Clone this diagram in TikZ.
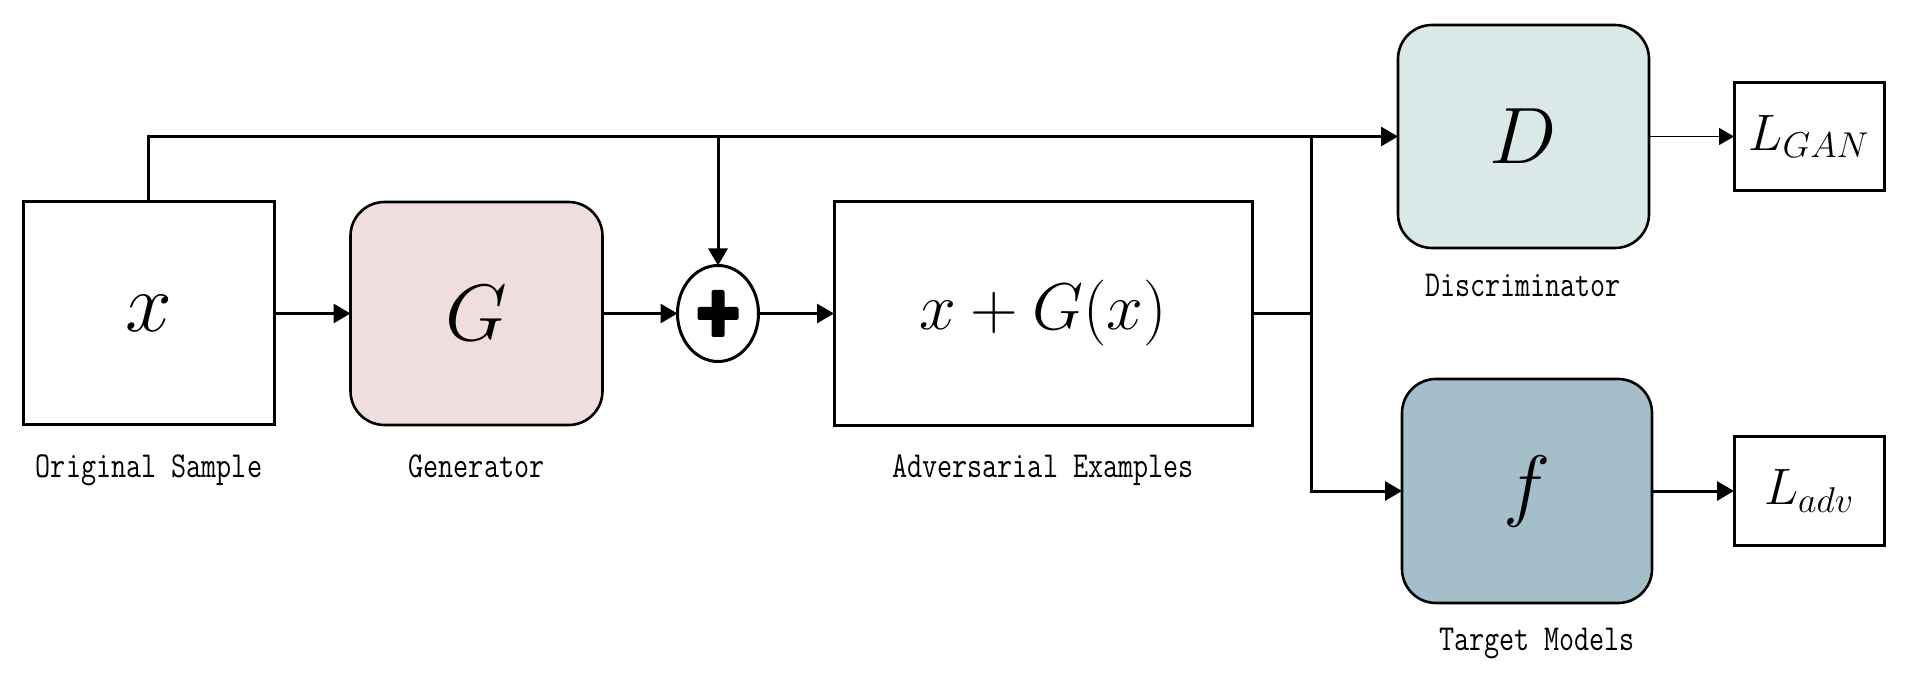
\RequirePackage{fix-cm}
\documentclass[tikz,border=0pt]{standalone}
\usetikzlibrary{arrows.meta,shapes.geometric}
\definecolor{gpink}{HTML}{F0DEDF}
\definecolor{dcyan}{HTML}{DAE8E8}
\definecolor{fblue}{HTML}{A4BFCA}
\begin{document}
\begin{tikzpicture}[x=0.5pt,y=-0.5pt,
  arr/.style={line width=1.5pt,-{Triangle[length=8.5pt,width=9.5pt]}},
  thinarr/.style={line width=0.6pt,-{Triangle[length=7.5pt,width=8.5pt]}},
  ln/.style={line width=1.5pt},
  sqbox/.style={draw,line width=1.5pt,inner sep=0pt,outer sep=0pt,fill=white},
  rbox/.style={draw,line width=1.3pt,rounded corners=17pt,inner sep=0pt,outer sep=0pt},
  lab/.style={font=\ttfamily\fontsize{18.3}{20}\selectfont,inner sep=0pt,anchor=base,xscale=0.8,transform shape},
  bigmath/.style={font=\fontsize{40}{44}\selectfont},
]
\fill[white] (0,0) rectangle (1906,673);
\useasboundingbox (0,0) rectangle (1906,673);

% boxes
\node[sqbox,minimum width=125.5pt,minimum height=111.5pt,font=\fontsize{42}{44}\selectfont] (xbox) at (148.5,313.5) {$x$};
\node[rbox,bigmath,fill=gpink,minimum width=126pt,minimum height=111.5pt] (G) at (476.5,313.5) {$G$};
\node[draw,ellipse,line width=1.5pt,inner sep=0pt,outer sep=0pt,fill=white,minimum width=40.5pt,minimum height=48pt] (plus) at (718,313.5) {};
\node[sqbox,minimum width=209pt,minimum height=112pt,font=\fontsize{33}{36}\selectfont] (adv) at (1043,313.5) {$x+G(x)$};
\node[rbox,bigmath,fill=dcyan,minimum width=125.5pt,minimum height=111.5pt] (D) at (1523.5,136.5) {$D$};
\node[rbox,bigmath,fill=fblue,minimum width=125pt,minimum height=112pt] (f) at (1527,491) {$f$};
\node[sqbox,minimum width=75pt,minimum height=54pt,font=\fontsize{25.6}{28}\selectfont] (LGAN) at (1809,136.5) {$L_{GAN}$};
\node[sqbox,minimum width=75pt,minimum height=54pt,font=\fontsize{25.6}{28}\selectfont] (Ladv) at (1809,491) {$L_{adv}$};

% plus sign
\fill[rounded corners=1pt] ([shift={(-20.5,-6.5)}]plus.center) rectangle ([shift={(20.5,6.5)}]plus.center);
\fill[rounded corners=1pt] ([shift={(-6.5,-23.5)}]plus.center) rectangle ([shift={(6.5,23.5)}]plus.center);

% labels
\node[lab] (lx) at (149,478) {Original Sample};
\node[lab] (lg) at (476.5,478) {Generator};
\node[lab] (la) at (1043,478) {Adversarial Examples};
\node[lab] (ld) at (1523,297) {Discriminator};
\node[lab] (lf) at (1537,650) {Target Models};

% junction coordinates
\coordinate (topb) at (718,136.5);
\coordinate (j1) at (1311,136.5);
\coordinate (j2) at (1311,313.5);

% connectors
\draw[arr] (xbox.east) -- (G.west);
\draw[arr] (G.east) -- (plus.west);
\draw[arr] (plus.east) -- (adv.west);
\draw[arr] (xbox.north) |- (D.west);
\draw[arr] (topb) -- (plus.north);
\draw[ln] (adv.east) -- (j2);
\draw[arr] (j1) |- (f.west);
\draw[thinarr] (D.east) -- (LGAN.west);
\draw[arr] (f.east) -- (Ladv.west);
\end{tikzpicture}
\end{document}
